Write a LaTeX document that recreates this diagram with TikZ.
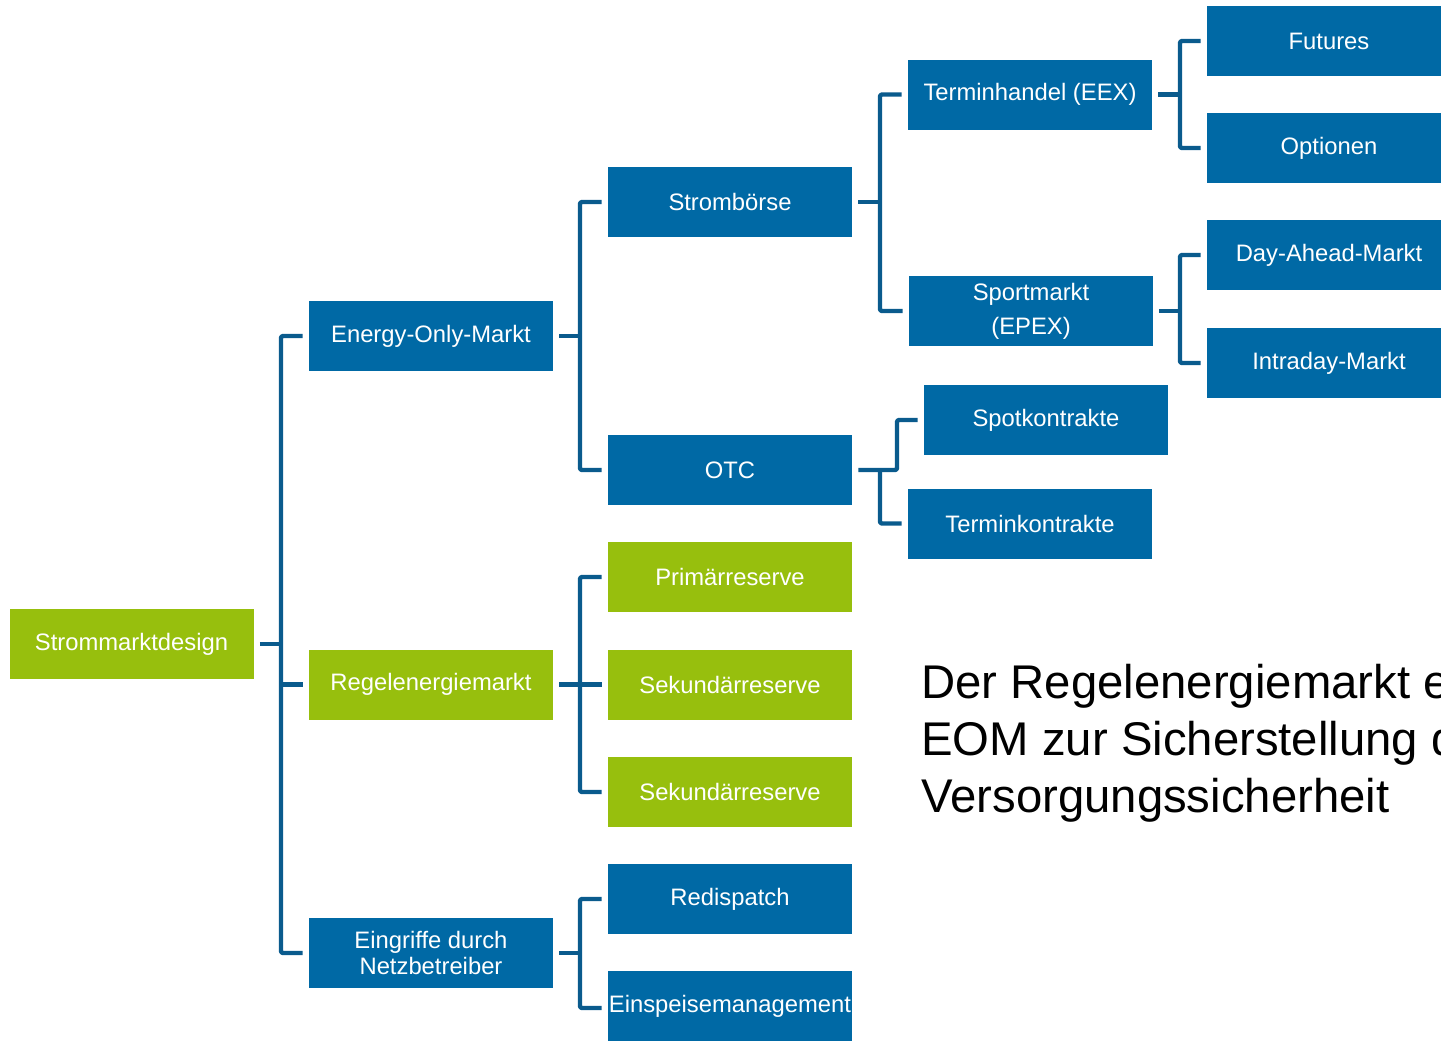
\documentclass[tikz,border=0pt]{standalone}
\usepackage{fontspec}
\setmainfont{Liberation Sans}
\definecolor{boxblue}{HTML}{0069A5}
\definecolor{boxgreen}{HTML}{97BF0D}
\definecolor{linkblue}{HTML}{0A5B8D}
\begin{document}
\begin{tikzpicture}[x=0.5pt,y=-0.5pt,
  box/.style={minimum width=122pt, minimum height=35pt, inner sep=0pt,
    text=white, align=center, font=\fontsize{11.9}{12.6}\selectfont},
  bluebox/.style={box, fill=boxblue},
  greenbox/.style={box, fill=boxgreen},
  link/.style={draw=linkblue, line width=2.2pt, rounded corners=1pt, line join=round}]
\useasboundingbox (0,0) rectangle (1441,1040);
\clip (0,0) rectangle (1441,1040);

% trunk positions of the bracket connectors
\coordinate (t1) at (281,0);
\coordinate (t2) at (580,0);
\coordinate (t3) at (880,0);
\coordinate (t4) at (1180,0);
\coordinate (t5) at (897,0);

% level 0
\node[greenbox] (root) at (131.5,644) {Strommarktdesign};

% level 1
\node[bluebox]  (eom) at (431,336)   {Energy-Only-Markt};
\node[greenbox] (reg) at (431,684.5) {Regelenergiemarkt};
\node[bluebox]  (ein) at (431,953)   {Eingriffe durch\\Netzbetreiber};

% level 2
\node[bluebox]  (boerse) at (730,202)   {Strombörse};
\node[bluebox]  (otc)    at (730,470)   {OTC};
\node[greenbox] (prim)   at (730,577)   {Primärreserve};
\node[greenbox] (sek)    at (730,684.5) {Sekundärreserve};
\node[greenbox] (sekb)   at (730,792)   {Sekundärreserve};
\node[bluebox]  (redis)  at (730,899)   {Redispatch};
\node[bluebox]  (einsp)  at (730,1006)  {Einspeisemanagement};

% level 3
\node[bluebox] (termin) at (1030,94.5) {Terminhandel (EEX)};
\node[bluebox, font=\fontsize{11.9}{17}\selectfont] (sport) at (1031,311) {Sportmarkt\\(EPEX)};
\node[bluebox] (spotk)  at (1046,420)  {Spotkontrakte};
\node[bluebox] (termk)  at (1030,523.5) {Terminkontrakte};

% level 4
\node[bluebox] (fut)   at (1329,41)  {Futures};
\node[bluebox] (opt)   at (1329,148) {Optionen};
\node[bluebox] (dam)   at (1329,255) {Day-Ahead-Markt};
\node[bluebox] (intra) at (1329,363) {Intraday-Markt};

% connectors: Strommarktdesign
\draw[link] ([xshift=3pt]root.east) -- (root.east -| t1);
\draw[link] ([xshift=-3pt]eom.west) -- (eom.west -| t1) -- (ein.west -| t1) -- ([xshift=-3pt]ein.west);
\draw[link] (reg.west -| t1) -- ([xshift=-3pt]reg.west);

% connectors: Energy-Only-Markt
\draw[link] ([xshift=3pt]eom.east) -- (eom.east -| t2);
\draw[link] ([xshift=-3pt]boerse.west) -- (boerse.west -| t2) -- (otc.west -| t2) -- ([xshift=-3pt]otc.west);

% connectors: Regelenergiemarkt
\draw[link] ([xshift=3pt]reg.east) -- (reg.east -| t2);
\draw[link] ([xshift=-3pt]prim.west) -- (prim.west -| t2) -- (sekb.west -| t2) -- ([xshift=-3pt]sekb.west);
\draw[link] (sek.west -| t2) -- ([xshift=-3pt]sek.west);

% connectors: Eingriffe durch Netzbetreiber
\draw[link] ([xshift=3pt]ein.east) -- (ein.east -| t2);
\draw[link] ([xshift=-3pt]redis.west) -- (redis.west -| t2) -- ([yshift=-1pt]einsp.west -| t2) -- ([xshift=-3pt,yshift=-1pt]einsp.west);

% connectors: Strombörse
\draw[link] ([xshift=3pt]boerse.east) -- (boerse.east -| t3);
\draw[link] ([xshift=-3pt]termin.west) -- (termin.west -| t3) -- (sport.west -| t3) -- ([xshift=-3pt]sport.west);

% connectors: OTC
\draw[link] ([xshift=3pt]otc.east) -- (otc.east -| t5) -- (spotk.west -| t5) -- ([xshift=-3pt]spotk.west);
\draw[link] (otc.east -| t3) -- (termk.west -| t3) -- ([xshift=-3pt]termk.west);

% connectors: Terminhandel
\draw[link] ([xshift=3pt]termin.east) -- (termin.east -| t4);
\draw[link] ([xshift=-3pt]fut.west) -- (fut.west -| t4) -- (opt.west -| t4) -- ([xshift=-3pt]opt.west);

% connectors: Sportmarkt
\draw[link] ([xshift=3pt]sport.east) -- (sport.east -| t4);
\draw[link] ([xshift=-3pt]dam.west) -- (dam.west -| t4) -- (intra.west -| t4) -- ([xshift=-3pt]intra.west);

% note (anchored at the baseline of its last line)
\node[anchor=base west, align=left, inner sep=0pt, text=black,
      font=\fontsize{23.65}{28.5}\selectfont] (note) at (921,812)
  {Der Regelenergiemarkt e\\EOM zur Sicherstellung d\\Versorgungssicherheit};
\end{tikzpicture}
\end{document}
